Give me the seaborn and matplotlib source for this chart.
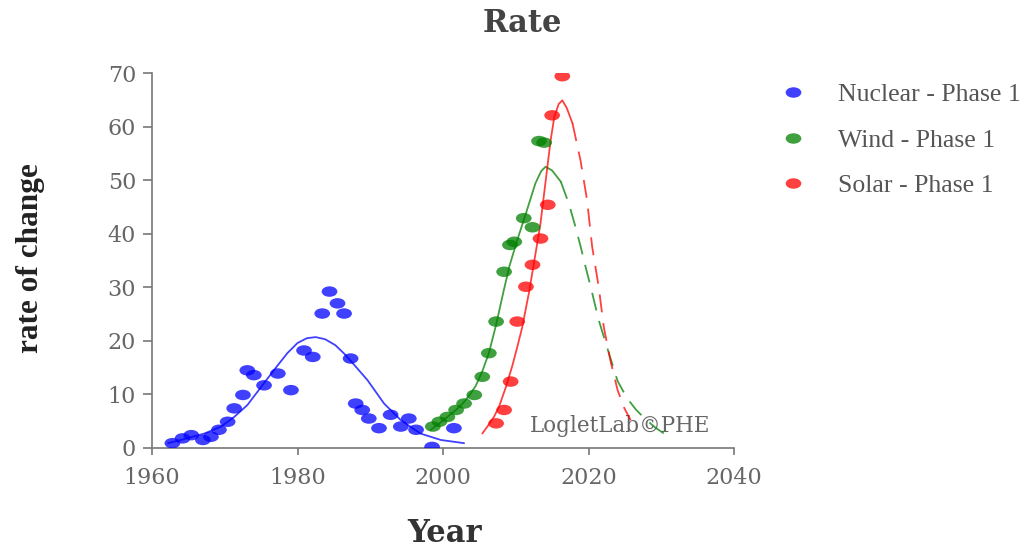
import numpy as np
import pandas as pd
import matplotlib
matplotlib.use("Agg")
import matplotlib.pyplot as plt
from matplotlib.path import Path
from matplotlib.transforms import Affine2D
from matplotlib.lines import Line2D
import seaborn as sns

# ---------------- data ----------------
series_names = ["Nuclear - Phase 1", "Wind - Phase 1", "Solar - Phase 1"]
series_colors = ["#0000ff", "#008000", "#ff0000"]

nuclear_year = [1962.8, 1964.2, 1965.4, 1967.0, 1968.1, 1969.2, 1970.4, 1971.3, 1972.5,
                1973.1, 1974.0, 1975.4, 1977.3, 1979.1, 1980.9, 1982.1, 1983.4, 1984.4,
                1985.5, 1986.4, 1987.3, 1988.0, 1988.9, 1989.8, 1991.2, 1992.8, 1994.2,
                1995.3, 1996.3, 1998.5, 2001.5]
nuclear_rate = [0.9, 1.8, 2.4, 1.5, 2.1, 3.4, 4.9, 7.4, 9.9,
                14.5, 13.6, 11.7, 13.9, 10.8, 18.2, 17.0, 25.1, 29.2,
                27.0, 25.1, 16.7, 8.3, 7.1, 5.5, 3.7, 6.2, 4.0,
                5.5, 3.4, 0.2, 3.7]

wind_year = [1998.6, 1999.5, 2000.6, 2001.8, 2002.9, 2004.3, 2005.4, 2006.3, 2007.3,
             2008.4, 2009.2, 2009.8, 2011.1, 2012.3, 2013.2, 2013.9]
wind_rate = [4.0, 4.9, 5.8, 7.1, 8.3, 9.9, 13.3, 17.7, 23.6,
             32.9, 37.9, 38.5, 42.9, 41.2, 57.3, 57.0]

solar_year = [2007.3, 2008.4, 2009.3, 2010.2, 2011.4, 2012.3, 2013.4, 2014.4, 2015.0, 2016.4]
solar_rate = [4.6, 7.1, 12.4, 23.6, 30.1, 34.2, 39.1, 45.4, 62.1, 69.4]

# fitted curves (solid = fitted range, dashed = forecast)
nuclear_fit_year = [1962.2, 1964.5, 1967.2, 1969.5, 1971.3, 1973.1, 1975.0, 1976.8, 1978.6,
                    1980.0, 1981.3, 1982.5, 1983.8, 1985.2, 1986.5, 1988.0, 1989.6, 1991.9,
                    1994.2, 1996.9, 1999.7, 2002.9]
nuclear_fit_rate = [0.9, 1.7, 2.7, 4.0, 5.8, 8.0, 11.4, 14.6, 17.7,
                    19.6, 20.5, 20.7, 20.3, 19.2, 17.5, 15.2, 12.7, 8.3,
                    5.2, 2.7, 1.5, 0.9]

wind_fit_year = [1998.3, 1999.5, 2000.6, 2001.7, 2002.7, 2003.6, 2004.5, 2005.4, 2006.3,
                 2007.3, 2008.2, 2009.1, 2010.2, 2011.4, 2012.7, 2013.5, 2014.1, 2015.0, 2016.2]
wind_fit_rate = [3.4, 4.6, 5.8, 7.0, 8.3, 9.8, 11.6, 14.3, 17.7,
                 23.0, 28.5, 33.8, 38.8, 43.8, 49.4, 51.7, 52.5, 51.8, 49.7]
wind_fcst_year = [2016.2, 2017.3, 2018.1, 2018.9, 2019.6, 2020.3, 2021.4, 2022.8, 2024.0,
                  2025.3, 2026.5, 2027.8, 2029.2, 2030.8]
wind_fcst_rate = [49.7, 45.6, 41.8, 37.7, 33.8, 30.1, 23.9, 17.7, 12.5,
                  9.3, 7.2, 5.4, 3.8, 2.3]

solar_fit_year = [2005.4, 2006.1, 2007.0, 2007.7, 2008.6, 2009.5, 2010.2, 2010.9, 2011.8,
                  2012.5, 2013.4, 2013.9, 2014.8, 2015.3, 2015.9, 2016.4, 2017.0, 2017.8]
solar_fit_rate = [2.7, 4.0, 5.8, 7.7, 11.2, 15.2, 18.8, 22.6, 28.9,
                  34.5, 41.9, 47.5, 57.5, 61.8, 64.2, 64.9, 63.5, 60.6]
solar_fcst_year = [2017.8, 2018.9, 2019.8, 2020.5, 2021.4, 2022.1, 2023.0, 2024.0, 2024.9, 2025.8]
solar_fcst_rate = [60.6, 53.7, 46.3, 37.6, 30.1, 22.6, 16.4, 10.8, 7.5, 5.2]

x_ticks = [1960, 1980, 2000, 2020, 2040]
y_ticks = [0, 10, 20, 30, 40, 50, 60, 70]

# ---------------- figure ----------------
sns.set_theme(style="white")
plt.rcParams["font.family"] = ["Liberation Serif", "DejaVu Serif"]

W, H = 1036, 548
fig = plt.figure(figsize=(W / 100, H / 100), dpi=100)
ax = fig.add_axes([152 / W, 100 / H, 582 / W, 375 / H])

ellipse = Path.unit_circle().transformed(Affine2D().scale(1.5, 1.0))

pts = [(nuclear_year, nuclear_rate), (wind_year, wind_rate), (solar_year, solar_rate)]
for (xs, ys), col in zip(pts, series_colors):
    sns.scatterplot(x=xs, y=ys, color=col, marker=ellipse, s=128, edgecolor="none",
                    alpha=0.75, ax=ax, zorder=3, legend=False)

solid = [(nuclear_fit_year, nuclear_fit_rate, series_colors[0]),
         (wind_fit_year, wind_fit_rate, series_colors[1]),
         (solar_fit_year, solar_fit_rate, series_colors[2])]
for xs, ys, col in solid:
    sns.lineplot(x=xs, y=ys, color=col, estimator=None, sort=False, lw=1.3,
                 alpha=0.75, ax=ax, zorder=2)

dashed = [(wind_fcst_year, wind_fcst_rate, series_colors[1]),
          (solar_fcst_year, solar_fcst_rate, series_colors[2])]
for xs, ys, col in dashed:
    sns.lineplot(x=xs, y=ys, color=col, estimator=None, sort=False, lw=1.3,
                 alpha=0.75, ax=ax, zorder=2, linestyle=(0, (10, 6)))

ax.set_xlim(1960, 2040)
ax.set_ylim(0, 70)
ax.set_xticks(x_ticks)
ax.set_yticks(y_ticks)
ax.set_xticklabels([str(t) for t in x_ticks])
ax.set_yticklabels([str(t) for t in y_ticks])

for s in ["top", "right"]:
    ax.spines[s].set_visible(False)
for s in ["left", "bottom"]:
    ax.spines[s].set_color("#777777")
    ax.spines[s].set_linewidth(1.2)

ax.tick_params(axis="x", direction="out", length=5, width=1.2, color="#777777",
               pad=9, labelsize=16, labelcolor="#666666", bottom=True)
ax.tick_params(axis="y", direction="out", length=6.5, width=1.2, color="#777777",
               pad=5, labelsize=16, labelcolor="#666666", left=True)
for lab in ax.get_xticklabels() + ax.get_yticklabels():
    lab.set_fontfamily("DejaVu Serif")

ax.set_title("Rate", fontfamily="DejaVu Serif", fontweight="bold", fontsize=22,
             color="#444444", x=0.636, y=1.133, pad=0, va="center")
ax.set_xlabel("Year", fontfamily="DejaVu Serif", fontweight="bold", fontsize=22,
              color="#333333", va="center")
ax.xaxis.set_label_coords(0.502, -0.229)
ax.set_ylabel("rate of change", fontfamily="Liberation Serif", fontweight="bold",
              fontsize=22.5, color="#222222", va="center")
ax.yaxis.set_label_coords(-0.2096, 0.5067)

ax.text(0.804, 0.0587, "LogletLab©PHE", transform=ax.transAxes, ha="center", va="center",
        fontfamily="DejaVu Serif", fontsize=15.5, color="#666666", zorder=1)

handles = [Line2D([], [], ls="none", marker=ellipse, markersize=11.3, color=c,
                  alpha=0.75, markeredgecolor="none") for c in series_colors]
ax.legend(handles, series_names, loc="upper left",
          bbox_to_anchor=(780 / W, 1 - 83.5 / H), bbox_transform=fig.transFigure,
          frameon=False, prop=dict(family="Liberation Serif", size=18.5),
          labelcolor="#555555", handlelength=1.0, handletextpad=1.25,
          labelspacing=0.875, borderpad=0, borderaxespad=0)

fig.savefig("out.png", dpi=100)
